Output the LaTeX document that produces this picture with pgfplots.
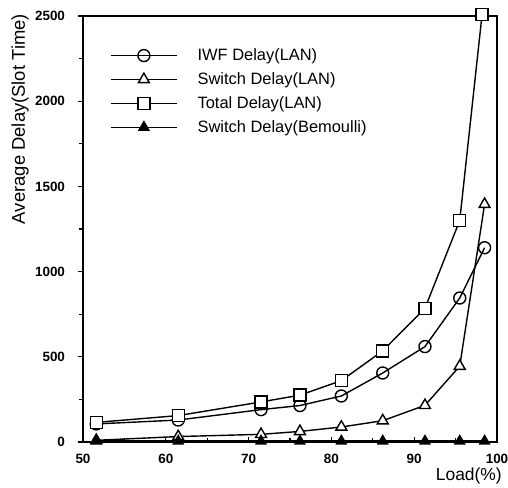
\documentclass[border=0pt]{standalone}
\usepackage{fontspec}
\setmainfont{Liberation Sans}
\usepackage{pgfplots}
\pgfplotsset{compat=1.18}
\begin{document}
\begin{tikzpicture}
\begin{axis}[
  scale only axis, width=414bp, height=426bp,
  xmin=50, xmax=100, ymin=0, ymax=2500,
  xtick={50,60,...,100}, ytick={0,500,...,2500},
  minor x tick num=1, minor y tick num=1,
  tick pos=left,
  xtick align=inside, ytick align=outside,
  major tick length=5bp, minor tick length=4bp,
  axis line style={line width=1.8bp},
  tick style={line width=1.3bp, black},
  /pgf/number format/assume math mode=true,
  /pgf/number format/1000 sep={},
  ticklabel style={font=\fontsize{13.5}{14}\selectfont\bfseries},
  xticklabel style={yshift=-8.5bp},
  yticklabel style={xshift=-9.5bp},
  xlabel={Load(\%)},
  xlabel style={at={(axis description cs:1,0)}, anchor=north east, xshift=5bp, yshift=-26bp, inner sep=0pt, font=\fontsize{17.5}{17.5}\selectfont},
  ylabel={Average Delay(Slot Time)},
  ylabel style={at={(axis description cs:-0.152,1.005)}, anchor=east, inner sep=0pt, font=\fontsize{18.5}{18.5}\selectfont},
  clip=false,
  legend cell align=left,
  legend style={at={(axis description cs:0.058,0.928)}, anchor=north west, draw=none, fill=none,
    font=\fontsize{16.5}{16.5}\selectfont, row sep=10.5bp,
    nodes={inner sep=0pt},
    /tikz/every odd column/.append style={column sep=20bp}},
  legend image code/.code={\draw[mark repeat=2, mark phase=2, #1] plot coordinates {(0bp,0bp) (33bp,0bp) (66bp,0bp)};},
  every axis plot/.append style={black, line width=1.4bp},
]
\addplot[mark=o, mark options={mark size=6bp, fill=white, solid}] coordinates {
 (51.6,106) (61.5,129) (71.5,190) (76.2,214) (81.2,270) (86.2,405) (91.3,560) (95.5,845) (98.5,1140)};
\addlegendentry{IWF Delay(LAN)}
\addplot[mark=triangle*, mark options={mark size=6.3bp, fill=white, solid}] coordinates {
 (51.6,10) (61.5,32) (71.5,45) (76.2,62) (81.2,88) (86.2,125) (91.3,215) (95.5,445) (98.5,1395)};
\addlegendentry{Switch Delay(LAN)}
\addplot[mark=square*, mark options={mark size=6bp, fill=white, solid}] coordinates {
 (51.6,115) (61.5,155) (71.5,235) (76.2,275) (81.2,360) (86.2,535) (91.3,785) (95.5,1300) (98.2,2510)};
\addlegendentry{Total Delay(LAN)}
\addplot[mark=triangle*, mark options={mark size=5.6bp, fill=black, solid}] coordinates {
 (51.6,5) (61.5,5) (71.5,5) (76.2,5) (81.2,5) (86.2,5) (91.3,5) (95.5,5) (98.5,5)};
\addlegendentry{Switch Delay(Bemoulli)}
\end{axis}
\pgfresetboundingbox
\path (current axis.south west) ++(-83bp,-46bp) coordinate (bbA);
\path (current axis.north east) ++(11bp,16bp) coordinate (bbB);
\useasboundingbox (bbA) rectangle (bbB);
\end{tikzpicture}
\end{document}
